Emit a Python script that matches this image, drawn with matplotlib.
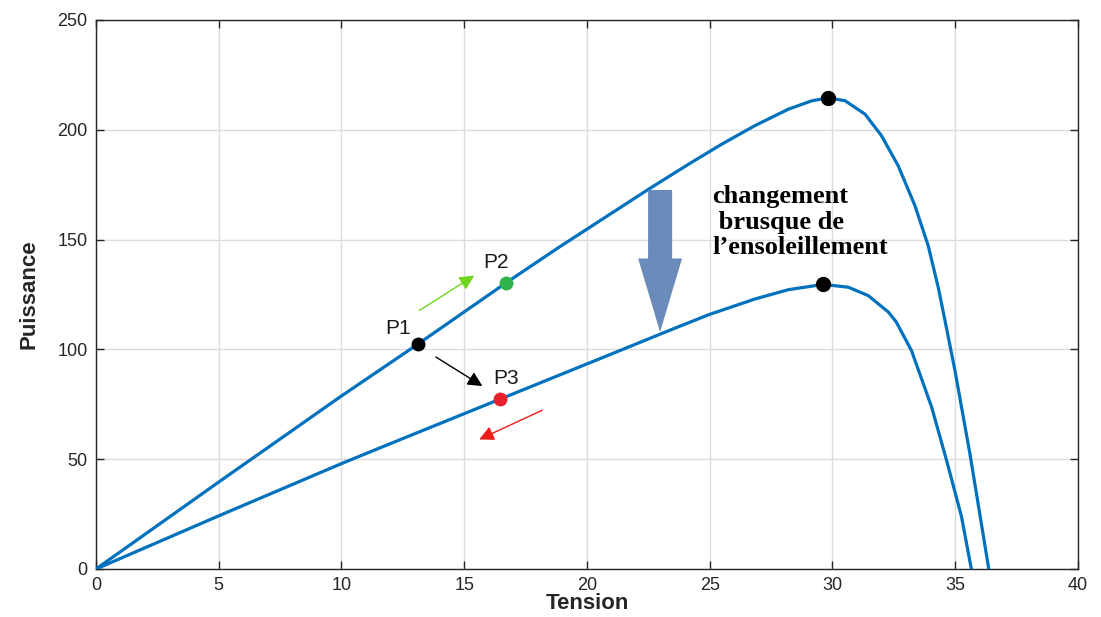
#!/usr/bin/env python3
"""P-V curves of a PV panel before and after a sudden irradiance drop."""

import matplotlib

matplotlib.use("Agg")
import matplotlib.pyplot as plt
from matplotlib.patches import FancyArrow

# upper curve (high irradiance)
v_high = [0, 5, 10, 13.1, 16.69, 18.86, 22.52, 24.15, 25.5, 26.86, 28.21,
          29.16, 29.84, 30.52, 31.33, 32.0, 32.68, 33.36, 33.9, 34.31, 34.58,
          34.99, 35.6, 36.0, 36.37]
p_high = [0, 39.6, 78.8, 102.3, 130.2, 146.5, 173.0, 184.4, 193.5, 202.0,
          209.4, 213.2, 214.6, 213.2, 207.1, 197.3, 183.6, 165.5, 147.3, 128.3,
          113.5, 90.5, 52.6, 25.3, 0]

# lower curve (after the drop)
v_low = [0, 5, 10, 12.5, 16.45, 21.57, 23.06, 24.96, 26.86, 28.21, 29.63,
         30.65, 31.46, 32.28, 32.6, 33.22, 34.04, 34.65, 35.26, 35.66]
p_low = [0, 24.2, 48.0, 59.4, 77.3, 100.5, 107.3, 115.8, 123.0, 127.2, 129.6,
         128.3, 124.5, 117.0, 112.5, 99.5, 73.8, 49.5, 23.8, 0]

# maximum power points
mpp_v = [29.84, 29.63]
mpp_p = [214.6, 129.6]

# operating points
points = {"P1": (13.1, 102.3), "P2": (16.69, 130.2), "P3": (16.45, 77.3)}
point_colors = {"P1": "black", "P2": "#2fb24c", "P3": "#e8222c"}
label_pos = {"P1": (12.29, 109.4), "P2": (16.29, 139.7), "P3": (16.69, 86.7)}

# small arrows: (tail, head, colour)
small_arrows = [
    ((13.17, 117.7), (15.41, 133.6), "#6fd61e"),
    ((13.85, 96.5), (15.74, 83.3), "black"),
    ((18.18, 72.3), (15.61, 59.0), "#f01c1c"),
]

x_ticks = list(range(0, 41, 5))
y_ticks = list(range(0, 251, 50))

plt.rcParams["font.family"] = ["Liberation Sans", "DejaVu Sans"]

fig = plt.figure(figsize=(11.01, 6.17), dpi=100)
ax = fig.add_axes([0.0872, 0.0778, 0.8918, 0.8898])

line_color = "#0072BD"
ax.plot(v_high, p_high, color=line_color, lw=2.3, zorder=3)
ax.plot(v_low, p_low, color=line_color, lw=2.3, zorder=3)
ax.plot(mpp_v, mpp_p, "o", color="black", ms=10, zorder=4)

for name, (v, p) in points.items():
    ax.plot(v, p, "o", color=point_colors[name], ms=9, zorder=4)
    lx, ly = label_pos[name]
    ax.text(lx, ly, name, fontsize=15, ha="center", va="center",
            color="#1a1a1a", zorder=5)

for tail, head, color in small_arrows:
    ax.annotate("", xy=head, xytext=tail,
                arrowprops=dict(arrowstyle="-|>", color=color, lw=1.0,
                                mutation_scale=22, shrinkA=0, shrinkB=0),
                zorder=5)

# big arrow for the sudden change
ax.add_patch(FancyArrow(22.98, 172.6, 0, -64.7, width=0.98,
                        head_width=1.79, head_length=33.5,
                        length_includes_head=True, color="#6b8cbb",
                        lw=0, zorder=5))

ax.text(25.1, 158, "changement\n brusque de\nl\u2019ensoleillement",
        fontsize=19, fontweight="bold", family="Liberation Serif",
        ha="left", va="center", linespacing=1.12, color="black", zorder=5)

ax.set_xlim(0, 40)
ax.set_ylim(0, 250)
ax.set_xticks(x_ticks)
ax.set_yticks(y_ticks)
ax.grid(True, color="#dcdcdc", lw=1.0)
ax.set_axisbelow(True)
ax.tick_params(direction="in", length=6, width=1, colors="#262626",
               labelsize=13, top=True, right=True, pad=6)
for spine in ax.spines.values():
    spine.set_color("#262626")
    spine.set_linewidth(1.0)

ax.set_xlabel("Tension", fontsize=16, fontweight="bold", color="#262626")
ax.xaxis.set_label_coords(0.5, -0.043)
ax.set_ylabel("Puissance", fontsize=16, fontweight="bold", color="#262626",
              labelpad=13)

fig.savefig("out.png", dpi=100)
